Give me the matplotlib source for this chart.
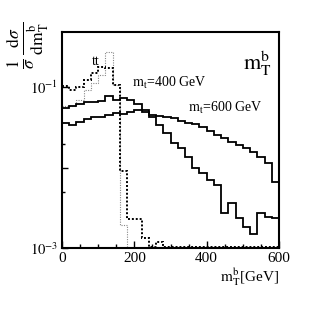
import numpy as np
import matplotlib
matplotlib.use("Agg")
import matplotlib.pyplot as plt
from matplotlib.ticker import FixedLocator, NullFormatter

plt.rcParams['font.family'] = ['Liberation Serif', 'DejaVu Serif']
plt.rcParams['mathtext.fontset'] = 'stix'

# 20 GeV bins from 0 to 600 GeV
bin_edges = np.arange(0, 620, 20)

# m_t = 400 GeV
mt400 = [0.0561, 0.0594, 0.0620, 0.0666, 0.0657, 0.0676, 0.0769, 0.0696, 0.0737, 0.0686,
         0.0620, 0.0522, 0.0431, 0.0340, 0.0271, 0.0203, 0.0176, 0.0136, 0.00994, 0.00861,
         0.00705, 0.00611, 0.00274, 0.00365, 0.00238, 0.00184, 0.00151, 0.00274, 0.00245, 0.00238]

# m_t = 600 GeV
mt600 = [0.0357, 0.0340, 0.0374, 0.0400, 0.0424, 0.0431, 0.0453, 0.0484, 0.0466, 0.0498,
         0.0522, 0.0489, 0.0453, 0.0444, 0.0431, 0.0412, 0.0381, 0.0363, 0.0347, 0.0321,
         0.0287, 0.0256, 0.0235, 0.0212, 0.0192, 0.0174, 0.0157, 0.0136, 0.0115, 0.00666]

# ttbar, thick dotted
tt_dark = [0.1038, 0.0939, 0.1009, 0.125, 0.152, 0.180, 0.172, 0.107, 0.0092, 0.00231,
           0.00231, 0.00134, 0.00105, 0.00121] + [0.00103] * 16

# ttbar, thin grey dotted
tt_light = [0.0586, 0.0586, 0.0696, 0.0926, 0.113, 0.142, 0.2745, 0.107, 0.00195] + [1e-4] * 21

fig = plt.figure(figsize=(3.11, 3.11), dpi=100)
ax = fig.add_axes([0.1994, 0.2016, 0.6977, 0.6965])

ax.stairs(tt_light, bin_edges, baseline=None, color='#888888', lw=0.8, ls=(0, (1, 1.2)))
ax.stairs(tt_dark, bin_edges, baseline=None, color='black', lw=1.4, ls=(0, (1, 1)))
ax.stairs(mt400, bin_edges, baseline=None, color='black', lw=1.3)
ax.stairs(mt600, bin_edges, baseline=None, color='black', lw=1.3)

ax.set_yscale('log')
ax.set_xlim(0, 600)
ax.set_ylim(1e-3, 0.491)

ax.set_xticks([0, 200, 400, 600])
ax.set_xticklabels(['0', '200', '400', '600'], fontsize=11)
ax.xaxis.set_minor_locator(FixedLocator(np.arange(50, 600, 50)))
ax.set_yticks([1e-3, 1e-2, 1e-1])
ax.set_yticklabels([r'$10^{-3}$', '', r'$10^{-1}$'], fontsize=10.5)
ax.yaxis.set_minor_locator(FixedLocator([5e-3, 2e-2]))
ax.yaxis.set_minor_formatter(NullFormatter())

ax.tick_params(axis='x', which='major', direction='in', length=5, width=1.0, pad=3)
ax.tick_params(axis='x', which='minor', direction='in', length=3, width=1.0)
ax.tick_params(axis='y', which='major', direction='in', length=4, width=1.0, pad=3)
ax.tick_params(axis='y', which='minor', direction='in', length=2.5, width=1.0)
for s in ax.spines.values():
    s.set_linewidth(1.5)

ax.text(500, 0.2, r'$\mathrm{m_T^b}$', fontsize=16, ha='left', va='center')
ax.text(296, 0.113, r'$\mathrm{m_t}$=400 GeV', fontsize=10, ha='center', va='center')
ax.text(452, 0.0554, r'$\mathrm{m_t}$=600 GeV', fontsize=10, ha='center', va='center')
ax.text(94, 0.21, 'tt', fontsize=10, ha='center', va='center')

fig.text(0.897, 0.11, r'$\mathrm{m_T^b}$[GeV]', fontsize=11, ha='right', va='center')
fig.text(0.09, 0.855, r'$\frac{1}{\sigma}\,\frac{\mathrm{d}\sigma}{\mathrm{dm_T^b}}$',
         fontsize=18, rotation=90, ha='center', va='center')

fig.savefig('out.png', dpi=100)
